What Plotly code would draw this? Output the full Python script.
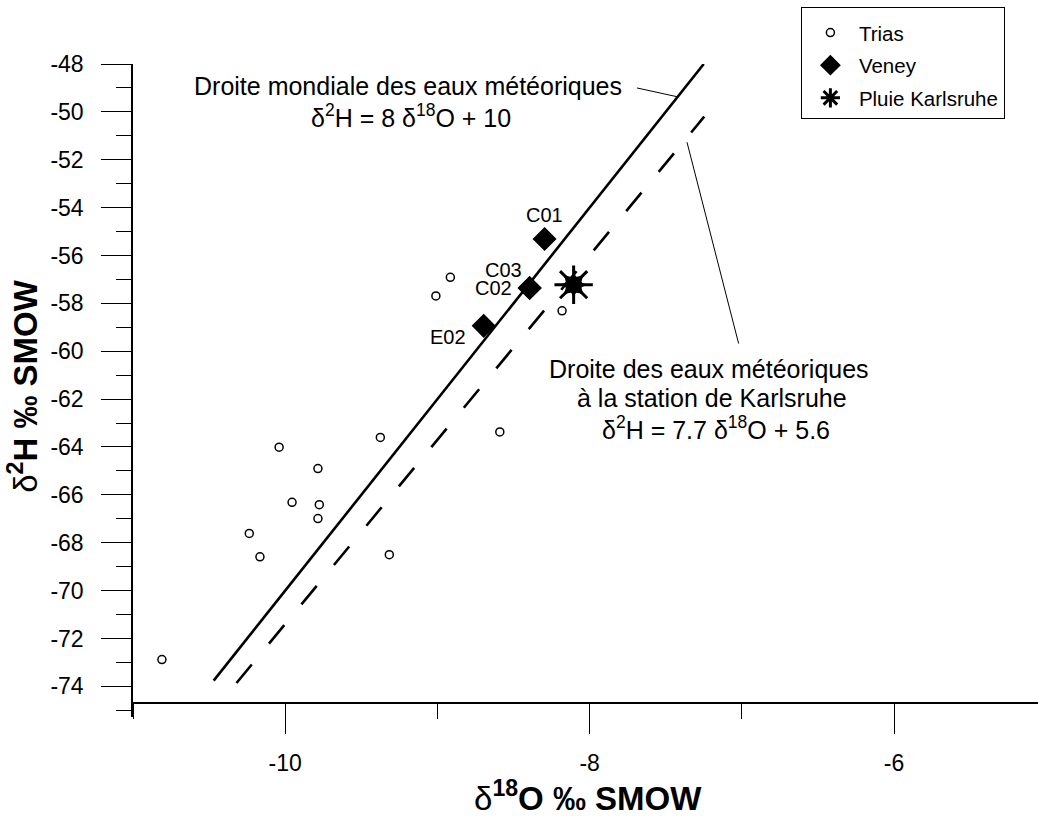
import plotly.graph_objects as go

# ---------------- data ----------------
trias_x = [-10.81, -10.04, -9.785, -9.955, -9.776, -9.785, -10.236, -10.166,
           -9.375, -9.316, -9.01, -8.915, -8.181, -8.59]
trias_y = [-72.88, -64.01, -64.90, -66.31, -66.41, -66.99, -67.61, -68.59,
           -63.60, -68.50, -57.69, -56.91, -58.31, -63.37]

veney_labels = ["C01", "C02", "C03", "E02"]
veney_x = [-8.296, -8.394, -8.394, -8.696]
veney_y = [-55.31, -57.36, -57.36, -58.94]

rain_x = [-8.105]
rain_y = [-57.22]

# global meteoric water line  d2H = 8 d18O + 10
gmwl_x = [-10.47, -7.25]
gmwl_y = [-73.76, -48.0]
# Karlsruhe meteoric water line d2H = 7.7 d18O + 5.6
lmwl_x = [-10.32, -7.247]
lmwl_y = [-73.86, -50.20]

x_range = [-11, -5.054]
y_range = [-75.28, -48]

x_tick_vals = [-10, -8, -6]
x_tick_text = ["-10", "-8", "-6"]
y_tick_vals = [-48, -50, -52, -54, -56, -58, -60, -62, -64, -66, -68, -70, -72, -74]
y_tick_text = ["-48", "-50", "-52", "-54", "-56", "-58", "-60", "-62", "-64",
               "-66", "-68", "-70", "-72", "-74"]

FONT = "Liberation Sans, Arial, sans-serif"

fig = go.Figure()

fig.add_trace(go.Scatter(x=gmwl_x, y=gmwl_y, mode="lines",
                         line=dict(color="black", width=2.6),
                         showlegend=False, hoverinfo="skip"))
fig.add_trace(go.Scatter(x=lmwl_x, y=lmwl_y, mode="lines",
                         line=dict(color="black", width=2.6, dash="24px,27px"),
                         showlegend=False, hoverinfo="skip"))

fig.add_trace(go.Scatter(x=trias_x, y=trias_y, mode="markers", name="Trias",
                         legendgroup="a",
                         marker=dict(symbol="circle-open", size=8,
                                     color="black", line=dict(width=1.5, color="black"))))
fig.add_trace(go.Scatter(x=veney_x, y=veney_y, mode="markers", name="Veney",
                         legendgroup="b",
                         marker=dict(symbol="diamond", size=18.5, color="black",
                                     line=dict(width=0))))
fig.add_trace(go.Scatter(x=rain_x, y=rain_y, mode="markers", name="Pluie Karlsruhe",
                         legendgroup="c",
                         marker=dict(symbol="asterisk-open", size=32,
                                     color="black", line=dict(width=3, color="black"))))
fig.add_trace(go.Scatter(x=rain_x, y=rain_y, mode="markers", showlegend=False,
                         legendgroup="c", hoverinfo="skip",
                         marker=dict(symbol="star-diamond", size=20, color="black",
                                     line=dict(width=0))))
fig.add_trace(go.Scatter(x=rain_x, y=rain_y, mode="markers", showlegend=False,
                         legendgroup="c", hoverinfo="skip",
                         marker=dict(symbol="star-square", size=20, color="black",
                                     line=dict(width=0))))

# labels of Veney samples
label_shift = {"C01": (0, 24), "C02": (-36, 0), "C03": (-26, 18), "E02": (-36, -11)}
annotations = []
for lab, xv, yv in zip(veney_labels, veney_x, veney_y):
    dx, dy = label_shift[lab]
    annotations.append(dict(x=xv, y=yv, xref="x", yref="y", text=lab,
                            showarrow=False, xshift=dx, yshift=dy,
                            font=dict(size=20, color="black", family=FONT)))

line_labels = [
    ("Droite mondiale des eaux météoriques", -10.612, -48.906),
    ("δ<sup>2</sup>H = 8 δ<sup>18</sup>O + 10", -9.846, -50.160),
    ("Droite des eaux météoriques", -8.280, -60.728),
    ("à la station de Karlsruhe", -8.094, -61.939),
    ("δ<sup>2</sup>H = 7.7 δ<sup>18</sup>O + 5.6", -7.930, -63.19),
]
for txt, xv, yv in line_labels:
    annotations.append(dict(x=xv, y=yv, xref="x", yref="y", text=txt,
                            showarrow=False, xanchor="left", yanchor="middle",
                            font=dict(size=25, color="black", family=FONT)))

# axis titles
annotations.append(dict(x=0.503, y=-0.121, xref="paper", yref="paper",
                        text="<span style='font-weight:normal'>δ</span><b><sup>18</sup>O ‰ SMOW</b>",
                        showarrow=False, xanchor="center", yanchor="middle",
                        font=dict(size=33, color="black", family=FONT)))
annotations.append(dict(x=-0.1212, y=0.5077, xref="paper", yref="paper",
                        text="<span style='font-weight:normal'>δ</span><b><sup>2</sup>H ‰ SMOW</b>",
                        showarrow=False, xanchor="center", yanchor="middle",
                        textangle=-90,
                        font=dict(size=33, color="black", family=FONT)))

shapes = [
    dict(type="line", xref="x", yref="y", x0=-7.689, y0=-49.0, x1=-7.423, y1=-49.37,
         line=dict(color="black", width=1)),
    dict(type="line", xref="x", yref="y", x0=-7.360, y0=-51.27, x1=-7.021, y1=-59.68,
         line=dict(color="black", width=1)),
]

fig.update_layout(
    width=1038, height=816,
    margin=dict(l=133, r=0, t=64, b=99, pad=0),
    paper_bgcolor="white", plot_bgcolor="white",
    font=dict(family=FONT, color="black", size=22),
    annotations=annotations,
    shapes=shapes,
    legend=dict(x=0.738, y=1.087, xanchor="left", yanchor="top",
                bordercolor="black", borderwidth=1, bgcolor="white",
                font=dict(size=20.5, family=FONT, color="black"),
                title=dict(text=" ", font=dict(size=3.5)),
                tracegroupgap=3, traceorder="grouped",
                itemwidth=47, indentation=0,
                entrywidth=152, entrywidthmode="pixels",
                itemsizing="trace"),
    xaxis=dict(range=x_range, showgrid=False, zeroline=False,
               showline=True, linecolor="black", linewidth=1.5,
               anchor="free", position=0.021,
               tickmode="array", tickvals=x_tick_vals, ticktext=x_tick_text,
               ticks="outside", ticklen=30, tickwidth=1,
               tickcolor="black", ticklabelstandoff=9,
               tickfont=dict(size=23),
               minor=dict(dtick=1, tick0=-11, ticks="outside", ticklen=15,
                          tickwidth=1, tickcolor="black", showgrid=False)),
    yaxis=dict(range=y_range, showgrid=False, zeroline=False,
               showline=True, linecolor="black", linewidth=1.5,
               tickmode="array", tickvals=y_tick_vals, ticktext=y_tick_text,
               ticks="outside", ticklen=30, tickwidth=1,
               tickcolor="black", ticklabelstandoff=13,
               tickfont=dict(size=23),
               minor=dict(dtick=1, tick0=-48, ticks="outside", ticklen=15,
                          tickwidth=1, tickcolor="black", showgrid=False)),
)

fig.write_html("out.html")
